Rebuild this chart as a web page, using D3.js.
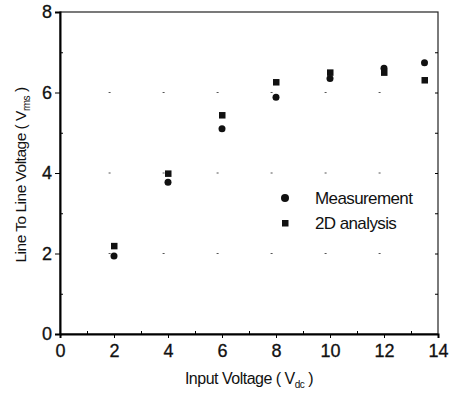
<!DOCTYPE html>
<html>
<head>
<meta charset="utf-8">
<script src="https://cdn.jsdelivr.net/npm/d3@7"></script>
<style>
  body { margin: 0; background: #fff; }
  svg { display: block; }
  text { font-family: "Liberation Sans", Arial, sans-serif; fill: #111; }
</style>
</head>
<body>
<div id="chart"></div>
<script>
// values
const inputVoltage = [2, 4, 6, 8, 10, 12, 13.5];
const measurement = [1.94, 3.77, 5.10, 5.88, 6.35, 6.60, 6.74];
const analysis2D = [2.19, 3.99, 5.44, 6.26, 6.50, 6.50, 6.31];
const xTicks = [0, 2, 4, 6, 8, 10, 12, 14];
const yTicks = [0, 2, 4, 6, 8];
const gridLevels = [2, 4, 6];

const width = 453, height = 393;
const margin = { top: 12, right: 15, bottom: 59, left: 60 };

const svg = d3.select("#chart").append("svg")
  .attr("width", width)
  .attr("height", height);

const x = d3.scaleLinear().domain([0, 14]).range([margin.left, width - margin.right]);
const y = d3.scaleLinear().domain([0, 8]).range([height - margin.bottom, margin.top]);

// faint dotted grid, like the scan
svg.append("g")
  .selectAll("line")
  .data(gridLevels)
  .enter()
  .append("line")
  .attr("x1", x(1.8)).attr("x2", x(13))
  .attr("y1", d => y(d)).attr("y2", d => y(d))
  .attr("stroke", "#555")
  .attr("stroke-width", 1)
  .attr("stroke-dasharray", "2," + (x(2) - x(0) - 2));

// frame
svg.append("rect")
  .attr("x", x(0)).attr("y", y(8))
  .attr("width", x(14) - x(0)).attr("height", y(0) - y(8))
  .attr("fill", "none")
  .attr("stroke", "#222")
  .attr("stroke-width", 1.2);

// bottom axis
const xAxis = svg.append("g")
  .attr("transform", `translate(0,${y(0)})`)
  .call(d3.axisBottom(x).tickValues(xTicks).tickSize(4).tickPadding(6).tickFormat(d3.format("d")));
xAxis.select(".domain").attr("stroke-width", 2);
xAxis.selectAll("text").style("font-size", "18px").attr("stroke", "#111").attr("stroke-width", 0.3);

svg.append("g")
  .attr("transform", `translate(0,${y(0)})`)
  .call(d3.axisBottom(x).tickValues(d3.range(1, 14, 2)).tickSize(-3).tickFormat(""))
  .select(".domain").remove();

// left axis
const yAxis = svg.append("g")
  .attr("transform", `translate(${x(0)},0)`)
  .call(d3.axisLeft(y).tickValues(yTicks).tickSize(5).tickPadding(3).tickFormat(d3.format("d")));
yAxis.select(".domain").attr("stroke-width", 2);
yAxis.selectAll("text").style("font-size", "18px").attr("stroke", "#111").attr("stroke-width", 0.3);

svg.append("g")
  .attr("transform", `translate(${x(0)},0)`)
  .call(d3.axisLeft(y).tickValues(d3.range(1, 8, 2)).tickSize(-3).tickFormat(""))
  .select(".domain").remove();

// right axis minor ticks
svg.append("g")
  .attr("transform", `translate(${x(14)},0)`)
  .call(d3.axisRight(y).tickValues(d3.range(1, 8)).tickSize(-3).tickFormat(""))
  .select(".domain").remove();

// points
svg.append("g")
  .selectAll("circle")
  .data(inputVoltage.map((v, i) => [v, measurement[i]]))
  .enter()
  .append("circle")
  .attr("cx", d => x(d[0]))
  .attr("cy", d => y(d[1]))
  .attr("r", 3.5)
  .attr("fill", "#111");

svg.append("g")
  .selectAll("rect")
  .data(inputVoltage.map((v, i) => [v, analysis2D[i]]))
  .enter()
  .append("rect")
  .attr("x", d => x(d[0]) - 3)
  .attr("y", d => y(d[1]) - 3)
  .attr("width", 6.5)
  .attr("height", 6.5)
  .attr("fill", "#111");

// legend
const legend = svg.append("g").attr("transform", "translate(285,198)");
legend.append("circle").attr("cx", 0).attr("cy", 0).attr("r", 4).attr("fill", "#111");
legend.append("text").attr("x", 30).attr("y", 6).style("font-size", "17px").style("letter-spacing", "-0.6px").text("Measurement");
legend.append("rect").attr("x", -3).attr("y", 22).attr("width", 6.5).attr("height", 6.5).attr("fill", "#111");
legend.append("text").attr("x", 30).attr("y", 31).style("font-size", "17px").style("letter-spacing", "-0.6px").text("2D analysis");

// axis titles
const xt = svg.append("text")
  .attr("x", x(7.0))
  .attr("y", 384)
  .attr("text-anchor", "middle")
  .style("font-size", "16px")
  .style("letter-spacing", "-0.5px");
xt.append("tspan").text("Input Voltage ( V");
xt.append("tspan").attr("dy", 4).style("font-size", "10px").text("dc");
xt.append("tspan").attr("dy", -4).text(" )");

const yt = svg.append("text")
  .attr("transform", "translate(26,175) rotate(-90)")
  .attr("text-anchor", "middle")
  .style("font-size", "15.5px")
  .style("letter-spacing", "-0.5px");
yt.append("tspan").text("Line To Line Voltage ( V");
yt.append("tspan").attr("dy", 4).style("font-size", "10px").text("rms");
yt.append("tspan").attr("dy", -4).text(" )");
</script>
</body>
</html>
